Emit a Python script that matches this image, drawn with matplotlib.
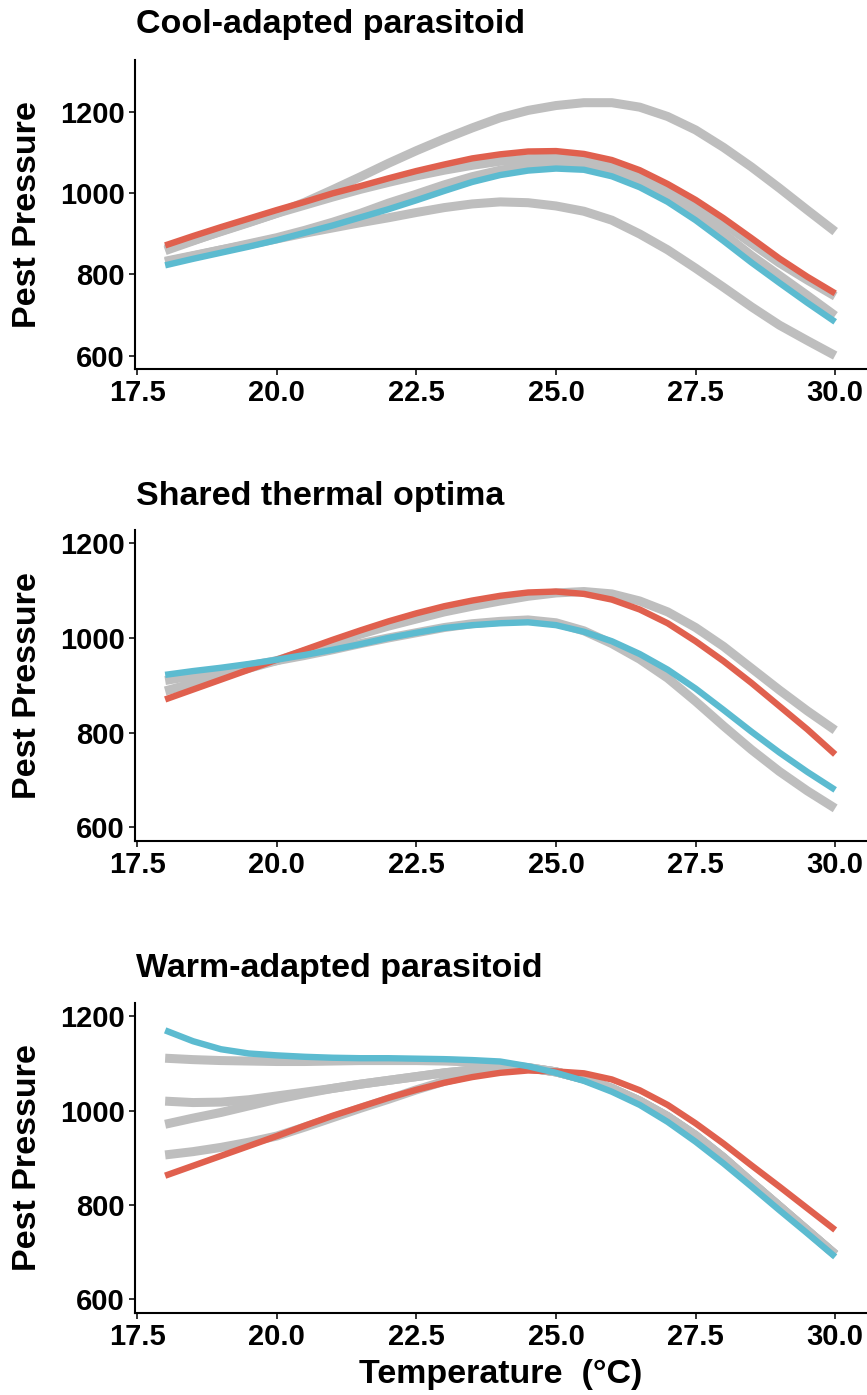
import numpy as np
import matplotlib
matplotlib.use("Agg")
import matplotlib.pyplot as plt

plt.rcParams["font.family"] = ["Liberation Sans", "DejaVu Sans"]
plt.rcParams["font.weight"] = "bold"

# temperature grid (°C)
temps = np.arange(18.0, 30.01, 0.5)

# Cool-adapted parasitoid
cool_red = [871, 894, 916, 937, 958, 978, 999, 1017, 1036, 1054, 1070, 1085, 1095,
            1102, 1103, 1096, 1081, 1056, 1022, 983, 938, 889, 839, 794, 753]
cool_blue = [822, 838, 853, 868, 884, 902, 920, 940, 960, 982, 1005, 1027, 1044,
             1055, 1060, 1057, 1041, 1014, 978, 933, 882, 829, 779, 730, 683]
cool_gray = [
    [862, 883, 905, 927, 950, 977, 1008, 1040, 1073, 1104, 1133, 1160, 1185,
     1203, 1215, 1222, 1222, 1211, 1188, 1155, 1112, 1064, 1012, 958, 905],
    [858, 882, 906, 928, 950, 970, 990, 1009, 1026, 1042, 1056, 1068, 1078,
     1084, 1087, 1083, 1068, 1044, 1010, 970, 925, 876, 828, 786, 746],
    [832, 846, 860, 875, 890, 908, 928, 950, 975, 997, 1020, 1040, 1056,
     1066, 1072, 1069, 1055, 1030, 996, 952, 900, 846, 797, 748, 698],
    [830, 845, 860, 873, 887, 901, 914, 927, 939, 952, 964, 973, 978,
     976, 968, 955, 933, 899, 860, 815, 768, 720, 675, 637, 600],
]

# Shared thermal optima
shared_red = [870, 891, 912, 933, 954, 975, 996, 1016, 1035, 1052, 1067, 1079, 1089,
              1096, 1098, 1093, 1081, 1060, 1031, 993, 951, 905, 856, 807, 754]
shared_blue = [922, 930, 937, 945, 954, 964, 975, 987, 1000, 1011, 1021, 1027, 1031,
               1033, 1027, 1013, 993, 966, 933, 893, 848, 802, 758, 717, 679]
shared_gray = [
    [888, 904, 920, 936, 952, 971, 990, 1008, 1025, 1040, 1055, 1067, 1078,
     1088, 1095, 1098, 1093, 1078, 1055, 1022, 982, 936, 890, 846, 805],
    [910, 920, 931, 941, 952, 963, 975, 988, 1000, 1011, 1022, 1030, 1035,
     1038, 1032, 1015, 988, 955, 915, 866, 814, 764, 718, 677, 640],
]

# Warm-adapted parasitoid
warm_red = [862, 883, 904, 925, 946, 968, 989, 1008, 1027, 1044, 1059, 1071, 1080,
            1085, 1083, 1079, 1066, 1043, 1012, 973, 930, 884, 839, 793, 747]
warm_blue = [1170, 1147, 1130, 1121, 1117, 1114, 1112, 1111, 1111, 1110, 1109, 1107, 1104,
             1094, 1080, 1063, 1040, 1012, 976, 934, 888, 839, 789, 740, 690]
warm_gray = [
    [1111, 1108, 1106, 1105, 1104, 1104, 1105, 1106, 1106, 1106, 1105, 1103, 1098,
     1091, 1082, 1067, 1047, 1020, 987, 947, 900, 848, 797, 746, 695],
    [1020, 1017, 1018, 1023, 1031, 1039, 1047, 1056, 1064, 1072, 1080, 1086, 1090,
     1091, 1082, 1067, 1047, 1020, 987, 947, 900, 848, 797, 746, 695],
    [971, 984, 996, 1010, 1024, 1036, 1047, 1056, 1064, 1072, 1080, 1086, 1090,
     1091, 1082, 1067, 1047, 1020, 987, 947, 900, 848, 797, 746, 695],
    [906, 913, 922, 933, 946, 965, 985, 1005, 1024, 1044, 1062, 1076, 1086,
     1090, 1082, 1067, 1047, 1020, 987, 947, 900, 848, 797, 746, 695],
]

titles = ["Cool-adapted parasitoid", "Shared thermal optima", "Warm-adapted parasitoid"]
panels = [(cool_gray, cool_red, cool_blue),
          (shared_gray, shared_red, shared_blue),
          (warm_gray, warm_red, warm_blue)]
ylims = [(567, 1327), (571, 1228), (571, 1228)]
xticks = [17.5, 20.0, 22.5, 25.0, 27.5, 30.0]
yticks = [600, 800, 1000, 1200]

RED = "#E0604E"
BLUE = "#5CBBD0"
GRAY = "#BEBEBE"

W, H = 867, 1395
fig = plt.figure(figsize=(W / 100, H / 100), dpi=100)

# axes boxes in pixels: (top, bottom)
boxes = [(60, 369), (530, 841), (1003, 1313)]
title_y = [25, 496, 968]
left, right = 135, 867

for i, (gray, red, blue) in enumerate(panels):
    top, bottom = boxes[i]
    ax = fig.add_axes([left / W, 1 - bottom / H, (right - left) / W, (bottom - top) / H])
    for g in gray:
        ax.plot(temps, g, color=GRAY, lw=6.5, solid_capstyle="butt")
    ax.plot(temps, red, color=RED, lw=4.6, solid_capstyle="butt")
    ax.plot(temps, blue, color=BLUE, lw=4.6, solid_capstyle="butt")

    ax.set_xlim(17.46, 30.57)
    ax.set_ylim(*ylims[i])
    ax.set_xticks(xticks)
    ax.set_xticklabels([f"{t:.1f}" for t in xticks])
    ax.set_yticks(yticks)
    for s in ["top", "right"]:
        ax.spines[s].set_visible(False)
    for s in ["left", "bottom"]:
        ax.spines[s].set_linewidth(1.5)
        ax.spines[s].set_color("black")
    ax.tick_params(length=4.5, width=1.4, color="#333333", labelsize=21, pad=3)
    for lab in ax.get_xticklabels() + ax.get_yticklabels():
        lab.set_fontweight("bold")

    fig.text(136 / W, 1 - title_y[i] / H, titles[i], fontsize=24.5, fontweight="bold",
             ha="left", va="center")
    fig.text(28 / W, 1 - (top + bottom) / 2 / H, "Pest Pressure", fontsize=24.5,
             fontweight="bold", rotation=90, ha="center", va="center")

fig.text((left + right) / 2 / W, 1 - 1375 / H, "Temperature  (°C)", fontsize=24.5,
         fontweight="bold", ha="center", va="center")

fig.savefig("out.png", dpi=100)
